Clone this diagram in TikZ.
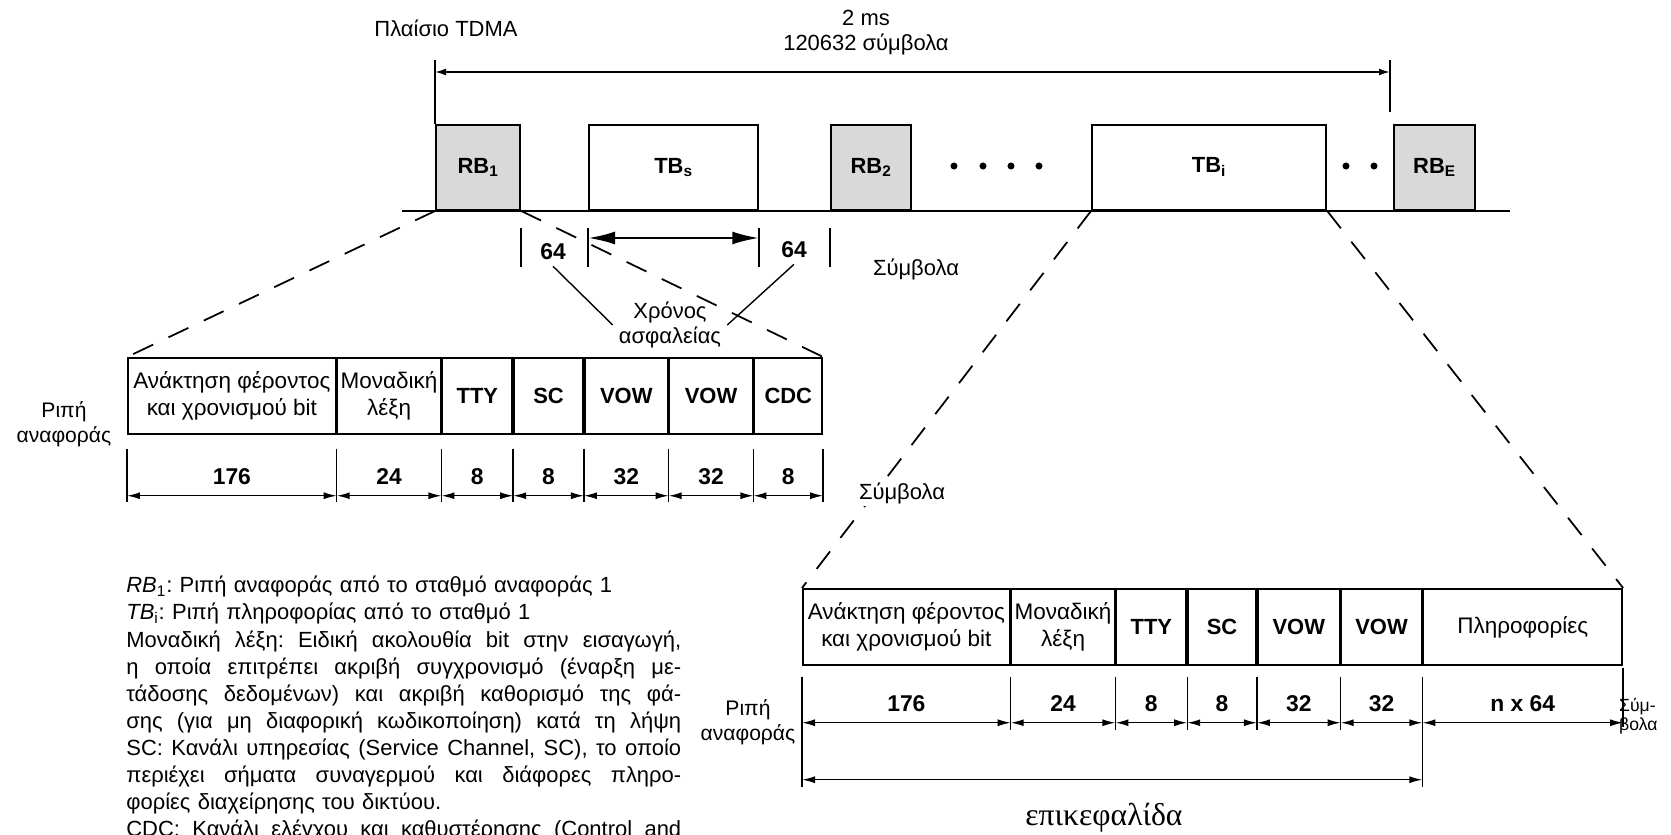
\documentclass[tikz,border=0pt]{standalone}
\usepackage{fontspec}
\setmainfont{Liberation Sans}
\newfontfamily\captfont{Liberation Serif}
\usetikzlibrary{positioning,arrows.meta}

\newcommand{\legline}[1]{\makebox[11.1cm][s]{\spaceskip=0.28em plus 3em\relax #1}}

\tikzset{
  burstbox/.style={draw, line width=1.3pt, minimum height=1.7cm, inner sep=0pt, anchor=south west,
    font=\fontsize{12.5}{14}\selectfont\bfseries},
  refbox/.style={burstbox, fill=black!15},
  cell/.style={draw, line width=1pt, minimum height=1.52cm, inner sep=0pt, align=center,
    font=\fontsize{12.8}{15}\selectfont},
  codecell/.style={cell, font=\fontsize{12.5}{14}\selectfont\bfseries},
  num/.style={font=\fontsize{13}{14}\selectfont\bfseries},
  txt/.style={font=\fontsize{12.5}{14}\selectfont, align=center},
  sidelabel/.style={font=\fontsize{12}{14}\selectfont, align=center},
  dimarrow/.style={{Latex[length=0.26cm,width=0.14cm]}-{Latex[length=0.26cm,width=0.14cm]}, line width=0.8pt},
  expandline/.style={dash pattern=on 0.44cm off 0.34cm, line width=1pt},
}

\begin{document}
\begin{tikzpicture}[x=0.02cm, y=-0.02cm]
  \useasboundingbox (0,0) rectangle (1671,835);

  % TDMA frame
  \node[txt] (frame) at (446,28) {Πλαίσιο TDMA};
  \node[txt] (dur) at (866,18) {2 ms};
  \node[txt] (len) at (866,45) {120632 σύμβολα};

  \node[refbox, minimum width=1.68cm] (rb1) at (435,211) {RB\textsubscript{1}};
  \node[burstbox, minimum width=3.38cm] (tbs) at (588,211) {TB\textsubscript{s}};
  \node[refbox, minimum width=1.6cm] (rb2) at (830,211) {RB\textsubscript{2}};
  \node[burstbox, minimum width=4.68cm] (tbi) at (1091,211) {TB\textsubscript{i}};
  \node[refbox, minimum width=1.62cm] (rbe) at (1393,211) {RB\textsubscript{E}};
  \draw[line width=1.3pt] ([xshift=-0.66cm]rb1.south west) -- ([xshift=0.68cm]rbe.south east);
  \foreach \x in {954,983,1011,1039} \fill (\x,166) circle (2pt);
  \foreach \x in {1346,1374} \fill (\x,166) circle (2pt);

  \coordinate (fl) at (435,60);
  \coordinate (fr) at (1390,60);
  \coordinate (fre) at (1390,112);
  \draw[line width=1pt] (fl) -- (rb1.north west);
  \draw[line width=1pt] (fr) -- (fre);
  \draw[{Latex[length=0.22cm,width=0.14cm]}-{Latex[length=0.22cm,width=0.14cm]}, line width=1pt]
    ([yshift=-0.24cm]fl) -- ([yshift=-0.24cm]fr);

  % guard time
  \foreach \a in {rb1.south east, tbs.south west, tbs.south east, rb2.south west}
    \draw[line width=1.2pt] ([yshift=-0.34cm]\a) -- ([yshift=-1.12cm]\a);
  \draw[{Latex[length=0.54cm,width=0.26cm]}-{Latex[length=0.54cm,width=0.26cm]}, line width=1.5pt]
    ([yshift=-0.54cm]tbs.south west) -- ([yshift=-0.54cm]tbs.south east);
  \node[num] (gl) at (553,252) {64};
  \node[num] (gr) at (794,250) {64};
  \node[txt] (symA) at (916,270) {Σύμβολα};
  \node[txt] (guard) at (670,325) {Χρόνος\\ασφαλείας};
  \draw[line width=0.8pt] (gl.south) -- (guard.west);
  \draw[line width=0.8pt] (gr.south) -- (guard.east);

  % reference burst
  \node[cell, minimum width=4.16cm, anchor=north west] (a1) at (127,357) {Ανάκτηση φέροντος\\και χρονισμού bit};
  \node[cell, minimum width=2.06cm, right=0pt of a1] (a2) {Μοναδική\\λέξη};
  \node[codecell, minimum width=1.4cm, right=0pt of a2] (a3) {TTY};
  \node[codecell, minimum width=1.38cm, right=0pt of a3] (a4) {SC};
  \node[codecell, minimum width=1.66cm, right=0pt of a4] (a5) {VOW};
  \node[codecell, minimum width=1.66cm, right=0pt of a5] (a6) {VOW};
  \node[codecell, minimum width=1.36cm, right=0pt of a6] (a7) {CDC};
  \node[sidelabel] (refA) at (64,424) {Ριπή\\αναφοράς};
  \foreach \c/\v in {a1/176,a2/24,a3/8,a4/8,a5/32,a6/32,a7/8} {
    \draw[line width=0.8pt] ([yshift=-0.28cm]\c.south west) -- ([yshift=-1.34cm]\c.south west);
    \node[num] (n\c) at ([yshift=-0.84cm]\c.south) {\v};
    \draw[dimarrow] ([yshift=-1.22cm]\c.south west) -- ([yshift=-1.22cm]\c.south east);
  }
  \draw[line width=0.8pt] ([yshift=-0.28cm]a7.south east) -- ([yshift=-1.34cm]a7.south east);
  \draw[expandline] (rb1.south west) -- (a1.north west);
  \draw[expandline] (rb1.south east) -- (a7.north east);

  % traffic burst
  \node[cell, minimum width=4.14cm, anchor=north west] (b1) at (802,588) {Ανάκτηση φέροντος\\και χρονισμού bit};
  \node[cell, minimum width=2.06cm, right=0pt of b1] (b2) {Μοναδική\\λέξη};
  \node[codecell, minimum width=1.4cm, right=0pt of b2] (b3) {TTY};
  \node[codecell, minimum width=1.36cm, right=0pt of b3] (b4) {SC};
  \node[codecell, minimum width=1.64cm, right=0pt of b4] (b5) {VOW};
  \node[codecell, minimum width=1.6cm, right=0pt of b5] (b6) {VOW};
  \node[cell, minimum width=3.98cm, right=0pt of b6] (b7) {Πληροφορίες};
  \node[sidelabel] (refB) at (748,722) {Ριπή\\αναφοράς};
  \foreach \c/\v in {b1/176,b2/24,b3/8,b4/8,b5/32,b6/32,b7/{n x 64}} {
    \draw[line width=0.8pt] ([yshift=-0.22cm]\c.south west) -- ([yshift=-1.28cm]\c.south west);
    \node[num] (n\c) at ([yshift=-0.76cm]\c.south) {\v};
    \draw[dimarrow] ([yshift=-1.14cm]\c.south west) -- ([yshift=-1.14cm]\c.south east);
  }
  \draw[line width=0.8pt] ([yshift=-0.04cm]b7.south east) -- ([yshift=-1.22cm]b7.south east);
  \draw[line width=0.8pt] ([yshift=-0.22cm]b1.south west) -- ([yshift=-2.42cm]b1.south west);
  \draw[line width=0.8pt] ([yshift=-0.22cm]b6.south east) -- ([yshift=-2.42cm]b6.south east);
  \draw[dimarrow] ([yshift=-2.28cm]b1.south west) -- ([yshift=-2.28cm]b6.south east);
  \node[font=\fontsize{10}{11}\selectfont, align=left, anchor=west] (symC) at (1613,716) {Σύμ-\\βολα};
  \node[font=\captfont\fontsize{18}{20}\selectfont] (head) at (1104,818) {επικεφαλίδα};
  \draw[expandline] (tbi.south west) -- (b1.north west);
  \draw[expandline] (tbi.south east) -- (b7.north east);
  \node[txt, fill=white, inner sep=1pt] (symB) at (902,494) {Σύμβολα};

  % legend
  \node[anchor=north west, inner sep=0pt, text width=11.1cm, font=\fontsize{12.5}{15.4}\selectfont\frenchspacing] (legend) at (126,576) {%
    \textit{RB}\textsubscript{1}: Ριπή αναφοράς από το σταθμό αναφοράς 1\\
    \textit{TB}\textsubscript{i}: Ριπή πληροφορίας από το σταθμό 1\\
    \legline{Μοναδική λέξη: Ειδική ακολουθία bit στην εισαγωγή,}\\
    \legline{η οποία επιτρέπει ακριβή συγχρονισμό (έναρξη με-}\\
    \legline{τάδοσης δεδομένων) και ακριβή καθορισμό της φά-}\\
    \legline{σης (για μη διαφορική κωδικοποίηση) κατά τη λήψη}\\
    \legline{SC: Κανάλι υπηρεσίας (Service Channel, SC), το οποίο}\\
    \legline{περιέχει σήματα συναγερμού και διάφορες πληρο-}\\
    φορίες διαχείρησης του δικτύου.\\
    \legline{CDC: Κανάλι ελέγχου και καθυστέρησης (Control and}};
\end{tikzpicture}
\end{document}
